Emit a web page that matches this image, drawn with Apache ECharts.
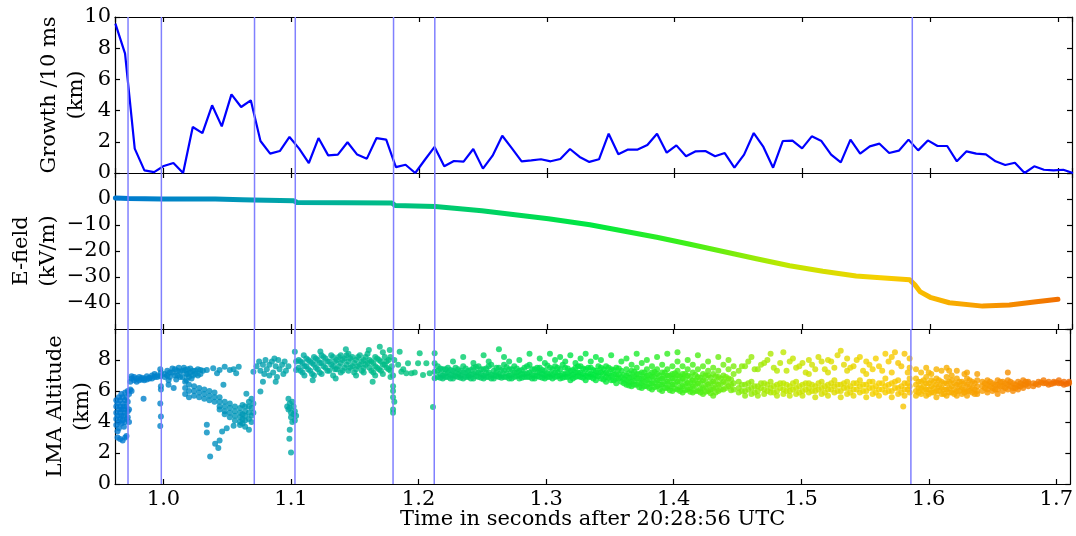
<!DOCTYPE html>
<html>
<head>
<meta charset="utf-8">
<script src="https://cdn.jsdelivr.net/npm/echarts@6/dist/echarts.min.js"></script>
<style>
html, body { margin: 0; padding: 0; background: #fff; }
#chart { width: 1076px; height: 536px; }
</style>
</head>
<body>
<div id="chart"></div>
<script>
// time axis shared by the three panels (seconds after 20:28:56 UTC)
const timeMin = 0.962;
const timeMax = 1.711;

// flash times marked by the blue vertical lines
const flashTimes = [0.9722, 0.9983, 1.0712, 1.1031, 1.18, 1.2123, 1.586];

// growth per window (km), evenly spaced samples
const growthStart = 0.9623;
const growthStep = 0.00757;
const growthValues = [
    9.57, 7.65, 1.56, 0.17, 0.06, 0.45, 0.64, 0.0, 2.95, 2.56,
    4.34, 2.99, 5.04, 4.23, 4.66, 2.05, 1.24, 1.41, 2.31, 1.56,
    0.64, 2.24, 1.13, 1.18, 1.97, 1.18, 0.92, 2.24, 2.14, 0.38,
    0.53, 0.0, 0.85, 1.67, 0.43, 0.77, 0.73, 1.54, 0.28, 1.11,
    2.39, 1.58, 0.75, 0.81, 0.88, 0.75, 0.9, 1.54, 1.03, 0.71,
    0.88, 2.52, 1.2, 1.5, 1.5, 1.79, 2.52, 1.3, 1.77, 1.07,
    1.39, 1.41, 1.07, 1.28, 0.34, 1.18, 2.56, 1.67, 0.34, 2.05,
    2.07, 1.58, 2.35, 2.05, 1.18, 0.68, 2.14, 1.24, 1.71, 1.88,
    1.28, 1.43, 2.14, 1.45, 2.09, 1.73, 1.73, 0.75, 1.39, 1.24,
    1.2, 0.75, 0.51, 0.66, 0.0, 0.43, 0.21, 0.17, 0.21, 0.0
];

// E-field (kV/m)
const efTimes = [
    0.9623, 0.9727, 0.9983, 1.0405, 1.0614, 1.0700, 1.0714, 1.1018, 1.1044, 1.1787,
    1.1813, 1.2126, 1.2491, 1.2751, 1.3012, 1.3337, 1.386, 1.412, 1.438, 1.464,
    1.490, 1.516, 1.542, 1.564, 1.584, 1.588, 1.592, 1.600, 1.615, 1.641,
    1.662, 1.683, 1.700
];
const efValues = [
    0.4, 0.2, 0.0, 0.0, -0.27, -0.35, -0.6, -0.7, -1.3, -1.55,
    -2.5, -2.85, -4.5, -6.05, -7.6, -9.9, -14.7, -17.4, -20.2, -23.0,
    -25.7, -27.8, -29.6, -30.4, -31.1, -33.0, -35.6, -37.8, -39.9, -41.2,
    -40.8, -39.5, -38.6
];

// LMA sources: each row is [time, altitude, altitude, ...] (km)
const lmaColumns = [
    [0.963, 3.8, 4.2, 4.6, 5.0, 5.4],
    [0.964, 3.4, 3.0, 4.4, 5.2],
    [0.965, 4.0, 4.8, 5.6, 3.6],
    [0.966, 2.9, 4.2, 4.6, 5.0, 5.4],
    [0.967, 3.9, 4.4, 4.8, 5.8],
    [0.968, 2.8, 4.1, 5.2, 5.6],
    [0.969, 4.4, 4.8, 5.0, 3.7],
    [0.970, 3.0, 4.0, 4.6, 5.4, 5.9],
    [0.971, 3.1, 4.2, 5.0, 5.6],
    [0.972, 4.3, 4.7, 5.3, 6.0],
    [0.973, 4.0, 4.8, 5.8],
    [0.974, 6.6, 6.1],
    [0.975, 6.8, 6.95, 6.0],
    [0.977, 6.7, 6.9],
    [0.979, 6.8, 6.6],
    [0.981, 6.7, 6.9],
    [0.983, 6.85, 6.75],
    [0.9844, 5.5],
    [0.985, 6.8, 6.7],
    [0.987, 6.95, 6.75],
    [0.989, 6.85, 6.8],
    [0.991, 6.8, 7.0],
    [0.993, 6.9, 7.1],
    [0.995, 7.0, 6.9],
    [0.9975, 7.4, 6.95, 5.2, 3.75],
    [0.998, 7.2, 6.3, 6.1, 4.35],
    [1.001, 7.1, 6.9],
    [1.003, 7.3, 7.0],
    [1.004, 6.7, 6.4],
    [1.005, 6.9, 7.2],
    [1.007, 7.2, 7.45],
    [1.008, 6.2],
    [1.009, 7.4, 7.0],
    [1.010, 6.75],
    [1.011, 7.0, 7.3],
    [1.012, 7.5],
    [1.013, 7.25, 6.9],
    [1.015, 6.9, 7.3],
    [1.016, 7.5],
    [1.017, 7.35, 6.6, 6.2, 5.8],
    [1.018, 6.7, 7.1],
    [1.019, 7.1, 7.4],
    [1.020, 6.9, 6.4, 6.0, 5.6],
    [1.021, 7.45, 7.2],
    [1.022, 6.8],
    [1.023, 7.0, 7.3],
    [1.024, 6.3, 6.0, 5.7],
    [1.025, 7.3, 7.1],
    [1.027, 7.4, 7.0],
    [1.028, 6.2, 5.9, 5.6],
    [1.029, 7.1, 7.36],
    [1.031, 7.3],
    [1.032, 6.1, 5.8, 5.5],
    [1.034, 7.36, 3.82, 3.33],
    [1.036, 6.0, 5.7, 5.4],
    [1.0366, 1.78],
    [1.039, 7.47],
    [1.040, 5.9, 5.6, 5.3],
    [1.0405, 2.6],
    [1.042, 7.15],
    [1.043, 2.32],
    [1.044, 7.36, 5.6, 5.3, 5.0, 4.8, 2.81],
    [1.046, 3.39],
    [1.047, 6.4],
    [1.048, 7.57, 5.3, 5.0, 4.7, 4.5],
    [1.0496, 3.6],
    [1.052, 7.36, 5.2, 4.9, 4.6, 4.3],
    [1.055, 7.4, 3.76],
    [1.056, 5.0, 4.7, 4.4, 4.1],
    [1.057, 7.15],
    [1.059, 7.57],
    [1.060, 4.9, 4.6, 4.3, 4.0, 3.8],
    [1.062, 5.1, 4.5, 4.2, 3.9],
    [1.064, 5.0, 4.7, 4.4, 4.1, 3.7],
    [1.065, 5.82],
    [1.067, 5.3, 5.0, 4.6, 4.2, 3.5],
    [1.069, 5.5, 4.9, 4.4, 4.0],
    [1.0705, 7.25, 5.2, 4.6],
    [1.073, 7.6],
    [1.075, 7.9],
    [1.076, 7.3, 5.97],
    [1.078, 7.7, 6.6],
    [1.079, 7.1],
    [1.080, 8.0],
    [1.081, 7.4],
    [1.083, 7.7, 7.0],
    [1.085, 7.9],
    [1.086, 7.2],
    [1.087, 8.1],
    [1.088, 7.6, 6.6],
    [1.089, 6.9],
    [1.090, 8.0],
    [1.091, 7.4],
    [1.093, 7.7],
    [1.094, 7.1],
    [1.095, 7.9],
    [1.096, 7.3],
    [1.097, 5.0],
    [1.098, 7.6, 5.5, 4.8],
    [1.0987, 2.92],
    [1.099, 5.2, 4.9, 3.5],
    [1.100, 4.6, 4.3, 2.04],
    [1.101, 4.0, 5.3],
    [1.102, 4.5, 5.0],
    [1.103, 4.7, 4.1, 8.54],
    [1.104, 4.4, 7.9, 7.36],
    [1.106, 7.5, 8.0],
    [1.109, 7.2, 7.8],
    [1.110, 8.3],
    [1.112, 7.6, 8.1],
    [1.115, 7.3, 7.9],
    [1.117, 6.7],
    [1.118, 7.7, 8.2, 7.0],
    [1.121, 7.4, 8.0],
    [1.123, 8.55],
    [1.124, 7.8, 7.1, 8.3],
    [1.127, 7.5, 8.1],
    [1.130, 7.9, 7.3],
    [1.133, 7.6, 8.2, 7.0],
    [1.135, 6.8],
    [1.136, 7.4, 8.0],
    [1.139, 7.8, 8.3, 7.2],
    [1.142, 7.5, 8.1],
    [1.143, 8.7],
    [1.145, 7.9, 7.3, 8.4],
    [1.148, 7.6, 8.2],
    [1.151, 7.4, 8.0, 7.0],
    [1.154, 7.7, 8.3],
    [1.157, 7.5, 8.0, 7.2],
    [1.160, 7.8, 8.4],
    [1.161, 8.65],
    [1.163, 7.3, 7.9],
    [1.164, 6.6],
    [1.166, 7.6, 8.2, 7.0],
    [1.169, 7.4, 8.0],
    [1.1696, 8.86],
    [1.172, 7.7, 8.5, 7.1],
    [1.175, 7.5, 7.9],
    [1.1774, 8.65],
    [1.178, 7.3, 8.2, 6.9],
    [1.180, 6.3, 6.0, 5.6, 4.8, 4.6, 7.0],
    [1.179, 7.6],
    [1.181, 5.3, 8.0],
    [1.184, 7.7],
    [1.1852, 8.54],
    [1.1865, 7.25],
    [1.188, 7.4],
    [1.1904, 7.15],
    [1.1917, 7.79],
    [1.1944, 7.15],
    [1.197, 7.19],
    [1.1996, 7.79],
    [1.2009, 8.43],
    [1.2035, 7.04],
    [1.2061, 7.79],
    [1.2087, 7.15],
    [1.2113, 4.96],
    [1.2126, 8.43, 7.79, 7.25, 6.82],
    [1.215, 6.9, 7.3, 7.6],
    [1.219, 7.0, 7.4, 6.8],
    [1.223, 7.2, 6.9, 7.5],
    [1.227, 7.0, 7.3, 6.8, 7.9],
    [1.231, 7.1, 7.4, 6.9],
    [1.235, 6.8, 7.2, 7.6, 8.2],
    [1.239, 7.0, 7.3, 6.9],
    [1.243, 7.1, 7.5, 6.8, 7.8],
    [1.247, 6.9, 7.2, 7.6],
    [1.251, 7.0, 7.4, 6.8, 8.3],
    [1.255, 7.2, 6.9, 7.6, 7.9],
    [1.259, 7.0, 7.3, 6.8],
    [1.263, 7.1, 7.5, 6.9, 8.7],
    [1.267, 6.9, 7.3, 7.7, 8.2],
    [1.271, 7.0, 7.4, 6.8, 7.9],
    [1.275, 7.2, 6.9, 7.6],
    [1.279, 7.0, 7.3, 6.8, 8.0],
    [1.283, 7.1, 7.5, 6.9],
    [1.287, 6.9, 7.2, 7.7, 8.4],
    [1.291, 7.0, 7.4, 6.8],
    [1.295, 7.2, 6.9, 7.5, 8.1],
    [1.299, 7.0, 7.3, 6.8, 7.8],
    [1.303, 7.1, 7.5, 6.9, 8.4],
    [1.307, 6.9, 7.2, 7.6, 8.0],
    [1.311, 7.0, 7.4, 6.8, 8.2],
    [1.315, 7.1, 6.9, 7.5, 7.9],
    [1.319, 7.0, 7.3, 6.7, 8.3],
    [1.323, 7.2, 7.5, 6.9, 7.8],
    [1.327, 6.9, 7.2, 7.6, 8.1],
    [1.331, 7.0, 7.4, 6.7, 8.4],
    [1.335, 7.1, 6.9, 7.5, 7.9],
    [1.339, 7.0, 7.3, 6.7, 8.2],
    [1.343, 7.2, 6.8, 7.5, 8.0],
    [1.347, 6.9, 7.2, 7.6, 6.6],
    [1.351, 7.0, 7.4, 6.7, 8.3],
    [1.355, 7.1, 6.8, 7.5, 6.5],
    [1.359, 6.9, 7.3, 6.6, 7.9],
    [1.363, 7.0, 6.7, 7.4, 6.4, 8.1],
    [1.367, 6.9, 6.6, 7.3, 6.3, 7.7],
    [1.371, 7.1, 6.8, 7.5, 6.4, 8.4],
    [1.375, 6.8, 6.5, 7.2, 6.2, 7.8],
    [1.379, 7.0, 6.7, 7.4, 6.3, 8.0],
    [1.383, 6.9, 6.5, 7.2, 6.1, 7.6],
    [1.387, 7.1, 6.7, 7.4, 6.3, 8.2],
    [1.391, 6.8, 6.4, 7.2, 6.0, 7.7],
    [1.395, 7.0, 6.6, 7.4, 6.2, 8.4],
    [1.399, 6.8, 6.4, 7.1, 6.0, 7.6],
    [1.403, 7.0, 6.6, 7.3, 6.1, 7.9, 8.5],
    [1.407, 6.8, 6.3, 7.1, 5.9, 7.6],
    [1.411, 7.0, 6.5, 7.4, 6.1, 8.0],
    [1.415, 6.7, 6.3, 7.2, 5.9, 7.7],
    [1.419, 6.9, 6.5, 7.4, 6.0, 8.3],
    [1.423, 6.7, 6.2, 7.1, 5.8, 7.6],
    [1.427, 7.0, 6.4, 7.3, 6.0, 7.9],
    [1.431, 6.6, 6.2, 7.1, 5.7, 7.5],
    [1.435, 6.9, 6.4, 7.3, 6.0, 8.2],
    [1.439, 6.6, 6.1, 7.0, 7.7],
    [1.443, 6.8, 6.3, 7.4, 8.0],
    [1.447, 6.5, 6.1, 7.1, 7.6],
    [1.451, 6.6, 6.2, 5.9, 7.3],
    [1.456, 6.4, 6.0, 5.7, 7.6],
    [1.461, 6.6, 6.2, 5.8, 8.2],
    [1.466, 6.3, 6.0, 5.7, 7.4],
    [1.471, 6.5, 6.1, 5.8, 7.8],
    [1.476, 6.6, 6.2, 5.9, 8.4],
    [1.481, 6.4, 6.0, 5.7, 7.3],
    [1.486, 6.5, 6.1, 5.8, 8.5],
    [1.491, 6.3, 6.0, 5.7, 7.9],
    [1.496, 6.6, 6.2, 5.8, 7.5],
    [1.501, 6.4, 6.0, 5.7, 7.8],
    [1.506, 6.5, 6.2, 5.9, 8.0, 7.1],
    [1.511, 6.3, 6.0, 5.6, 7.4],
    [1.516, 6.6, 6.2, 5.8, 7.9],
    [1.521, 6.4, 6.1, 5.7, 8.0, 7.2],
    [1.526, 6.7, 6.3, 5.9, 7.5],
    [1.531, 6.4, 6.0, 5.6, 8.6],
    [1.536, 6.6, 6.2, 5.8, 8.1, 7.3],
    [1.541, 6.5, 6.1, 5.7, 7.6],
    [1.546, 6.7, 6.3, 5.9, 8.2],
    [1.551, 6.4, 6.0, 5.6, 7.9, 7.1],
    [1.556, 6.6, 6.2, 5.8, 7.4],
    [1.561, 6.5, 6.1, 5.7, 7.6],
    [1.566, 6.8, 6.3, 5.9, 8.4],
    [1.571, 6.5, 6.0, 5.6, 8.2, 7.2],
    [1.576, 6.7, 6.2, 5.8, 7.8],
    [1.580, 5.0],
    [1.581, 6.5, 6.1, 5.7, 8.4],
    [1.585, 6.8, 6.3, 5.9, 8.1, 7.5],
    [1.590, 6.8, 6.4, 6.0, 5.7, 7.4],
    [1.594, 6.6, 6.2, 5.8, 7.2],
    [1.598, 6.9, 6.5, 6.1, 5.7, 7.5],
    [1.602, 6.7, 6.3, 5.9, 7.1],
    [1.606, 6.8, 6.4, 6.0, 5.6, 7.4],
    [1.610, 6.6, 6.2, 5.8, 7.3],
    [1.614, 6.9, 6.5, 6.1, 5.7, 7.5],
    [1.618, 6.7, 6.3, 5.9, 7.0],
    [1.622, 6.8, 6.4, 6.0, 5.7, 7.3],
    [1.626, 6.6, 6.2, 5.8],
    [1.630, 6.8, 6.4, 6.0, 5.7, 7.2],
    [1.634, 6.6, 6.2, 5.9],
    [1.638, 6.7, 6.3, 6.0, 5.8, 7.1],
    [1.642, 6.6, 6.3, 6.0],
    [1.646, 6.7, 6.4, 6.1, 5.9],
    [1.650, 6.5, 6.2, 6.0],
    [1.654, 6.7, 6.4, 6.1, 5.8],
    [1.658, 6.6, 6.3, 6.0],
    [1.662, 6.7, 6.4, 6.1, 7.2],
    [1.666, 6.5, 6.2, 6.0],
    [1.670, 6.6, 6.3, 6.1],
    [1.674, 6.7, 6.4, 6.2],
    [1.678, 6.5, 6.3, 6.6],
    [1.682, 6.5, 6.3],
    [1.686, 6.6, 6.4],
    [1.690, 6.5, 6.7],
    [1.694, 6.4, 6.6],
    [1.698, 6.6, 6.5],
    [1.702, 6.5, 6.7],
    [1.706, 6.4, 6.6],
    [1.710, 6.5, 6.6]
];

// extra LMA sources filling the dense bands, same layout
const lmaFill = [
    [1.1075, 7.3, 7.9], [1.1105, 7.6, 7.0], [1.1135, 7.4, 8.0], [1.1165, 7.8, 7.1],
    [1.1195, 7.5, 8.1], [1.1225, 7.2, 7.8], [1.1255, 7.6, 8.2], [1.1285, 7.3, 7.9],
    [1.1315, 7.7, 8.3], [1.1345, 7.4, 7.9], [1.1375, 7.6, 8.2], [1.1405, 7.3, 8.0],
    [1.1435, 7.7, 8.3], [1.1465, 7.5, 8.1], [1.1495, 7.8, 7.2], [1.1525, 7.6, 8.2],
    [1.1555, 7.3, 7.9], [1.1585, 7.7, 8.2], [1.1615, 7.5, 8.0], [1.1645, 7.8, 7.2],
    [1.1675, 7.5, 8.1], [1.1705, 7.3, 7.9], [1.1735, 7.7, 8.2], [1.1765, 7.4, 8.0],
    [1.217, 7.1, 6.85, 7.45], [1.221, 7.15, 6.9, 7.4], [1.225, 7.05, 6.8, 7.35],
    [1.229, 7.2, 6.95, 7.5], [1.233, 7.0, 6.85, 7.3], [1.237, 7.15, 6.9, 7.45],
    [1.241, 7.05, 6.8, 7.35], [1.245, 7.2, 6.95, 7.55], [1.249, 7.1, 6.85, 7.4],
    [1.253, 7.15, 6.9, 7.45], [1.257, 7.05, 6.8, 7.7], [1.261, 7.2, 6.95, 7.5],
    [1.265, 7.0, 6.85, 7.35], [1.269, 7.15, 6.9, 7.55], [1.273, 7.05, 6.8, 7.4],
    [1.277, 7.2, 6.95, 7.45], [1.281, 7.1, 6.85, 7.35], [1.285, 7.15, 6.9, 7.6],
    [1.289, 7.05, 6.8, 7.4], [1.293, 7.2, 6.95, 7.5], [1.297, 7.1, 6.85, 7.35],
    [1.301, 7.15, 6.9, 7.65], [1.305, 7.05, 6.8, 7.4], [1.309, 7.2, 6.95, 7.5],
    [1.313, 7.1, 6.85, 7.7], [1.317, 7.15, 6.9, 7.45], [1.321, 7.05, 6.8, 7.35],
    [1.325, 7.2, 6.95, 7.6], [1.329, 7.1, 6.85, 7.45], [1.333, 7.15, 6.9, 7.5],
    [1.337, 7.05, 6.8, 7.35], [1.341, 7.2, 6.95, 7.6], [1.345, 7.1, 6.75, 7.4],
    [1.349, 7.15, 6.85, 7.5], [1.353, 7.05, 6.7, 7.35], [1.357, 7.1, 6.8, 7.45],
    [1.361, 7.05, 6.75, 6.5],
    [1.365, 6.85, 6.55, 7.15, 6.35], [1.369, 6.95, 6.65, 7.25, 6.4],
    [1.373, 6.8, 6.5, 7.1, 6.25], [1.377, 6.9, 6.6, 7.2, 6.3],
    [1.381, 6.75, 6.45, 7.05, 6.2], [1.385, 6.9, 6.55, 7.25, 6.25],
    [1.389, 6.7, 6.4, 7.0, 6.1], [1.393, 6.85, 6.5, 7.2, 6.2],
    [1.397, 6.65, 6.3, 7.0, 6.05], [1.401, 6.8, 6.45, 7.15, 6.15],
    [1.405, 6.6, 6.25, 6.95, 6.0], [1.409, 6.75, 6.4, 7.1, 6.05],
    [1.413, 6.55, 6.2, 6.9, 5.95], [1.417, 6.7, 6.35, 7.05, 6.0],
    [1.421, 6.5, 6.15, 6.85, 5.9], [1.425, 6.65, 6.3, 7.0, 5.95],
    [1.429, 6.5, 6.1, 6.85, 5.85], [1.433, 6.6, 6.25, 6.95, 5.9],
    [1.437, 6.45, 6.1, 6.8], [1.441, 6.55, 6.2, 6.9], [1.445, 6.4, 6.05, 6.75],
    [1.4535, 6.4, 6.0, 7.6], [1.4585, 6.5, 6.1, 7.9], [1.4635, 6.3, 5.9, 7.4],
    [1.4685, 6.5, 6.2, 7.7], [1.4735, 6.4, 6.0, 8.0], [1.4785, 6.3, 5.9, 7.5],
    [1.4835, 6.5, 6.2, 7.8], [1.4885, 6.4, 6.0, 7.3], [1.4935, 6.5, 6.1, 8.1],
    [1.4985, 6.3, 5.9, 7.6], [1.5035, 6.5, 6.1, 7.2], [1.5085, 6.4, 6.0, 7.7],
    [1.5135, 6.5, 6.1, 8.2], [1.5185, 6.3, 5.9, 7.4], [1.5235, 6.5, 6.1, 7.9],
    [1.5285, 6.4, 6.0, 8.3], [1.5335, 6.5, 6.2, 7.7], [1.5385, 6.3, 5.9, 7.5],
    [1.5435, 6.5, 6.1, 8.0], [1.5485, 6.4, 6.0, 7.3], [1.5535, 6.6, 6.2, 7.7],
    [1.5585, 6.3, 5.9, 8.1], [1.5635, 6.5, 6.1, 7.3], [1.5685, 6.4, 6.0, 7.9],
    [1.5735, 6.6, 6.2, 8.5], [1.5785, 6.3, 5.9, 7.6], [1.5835, 6.5, 6.1, 7.2],
    [1.592, 6.6, 6.2, 5.9], [1.596, 6.7, 6.3, 6.0], [1.600, 6.5, 6.1, 5.8, 7.2],
    [1.604, 6.6, 6.2, 5.9], [1.608, 6.7, 6.3, 6.0], [1.612, 6.5, 6.1, 5.8],
    [1.616, 6.6, 6.2, 5.9, 7.3], [1.620, 6.5, 6.1, 5.8], [1.624, 6.6, 6.3, 6.0],
    [1.628, 6.5, 6.1, 5.9, 7.1], [1.632, 6.7, 6.3, 6.0], [1.636, 6.5, 6.1, 5.8],
    [1.644, 6.5, 6.2], [1.648, 6.6, 6.3], [1.652, 6.4, 6.1], [1.656, 6.6, 6.3],
    [1.660, 6.5, 6.2], [1.664, 6.6, 6.3], [1.668, 6.4, 6.2], [1.672, 6.5, 6.3],
    [1.676, 6.6, 6.4],
    [1.684, 6.45], [1.688, 6.55], [1.692, 6.5], [1.696, 6.45], [1.700, 6.55],
    [1.704, 6.5], [1.708, 6.45]
];

// colour ramp along time (early -> late)
const timeColors = [
    '#0078d0', '#008ec0', '#00aca0', '#00c080', '#00d460', '#00e840',
    '#40f018', '#c0e800', '#f8d000', '#f8a000', '#f06800'
];

const growthData = growthValues.map((v, i) => [growthStart + i * growthStep, v]);
const efData = efTimes.map((t, i) => [t, efValues[i]]);
const lmaData = [];
lmaColumns.concat(lmaFill).forEach(col => {
    col.slice(1).forEach(a => lmaData.push([col[0], a]));
});

const chart = echarts.init(document.getElementById('chart'));

const font = { fontFamily: 'DejaVu Serif', fontSize: 21, color: '#000' };
const black = { color: '#000', width: 1.2 };

// panel boxes
const grids = [
    { left: 115, right: 4, top: 17, height: 156 },
    { left: 115, right: 4, top: 173, height: 156 },
    { left: 115, right: 4, top: 329, height: 155 }
];

function minus(v) {
    return v < 0 ? '\u2212' + (-v) : String(v);
}

// bottom and top time axes for each panel
const xAxes = [];
grids.forEach((g, i) => {
    ['bottom', 'top'].forEach(pos => {
        const labelled = i === 2 && pos === 'bottom';
        xAxes.push({
            type: 'value',
            gridIndex: i,
            position: pos,
            min: timeMin,
            max: timeMax,
            splitNumber: 8,
            axisLine: { show: true, onZero: false, lineStyle: black },
            axisTick: { show: true, inside: true, length: 5, lineStyle: black },
            axisLabel: Object.assign({
                show: labelled,
                margin: 5,
                showMinLabel: false,
                showMaxLabel: false,
                formatter: v => v.toFixed(1)
            }, font),
            splitLine: { show: false },
            name: labelled ? 'Time in seconds after 20:28:56 UTC' : '',
            nameLocation: 'middle',
            nameGap: 25,
            nameMoveOverlap: false,
            nameTextStyle: font
        });
    });
});

const yRanges = [
    { min: 0, max: 10, interval: 2, name: 'Growth /10 ms\n(km)', gap: 25, hideMin: false, hideMax: false },
    { min: -50, max: 10, interval: 10, name: 'E-field\n(kV/m)', gap: 53, hideMin: true, hideMax: true },
    { min: 0, max: 10, interval: 2, name: 'LMA Altitude\n(km)', gap: 19, hideMin: false, hideMax: true }
];

const yAxes = [];
yRanges.forEach((r, i) => {
    ['left', 'right'].forEach(pos => {
        const labelled = pos === 'left';
        yAxes.push({
            type: 'value',
            gridIndex: i,
            position: pos,
            min: r.min,
            max: r.max,
            interval: r.interval,
            axisLine: { show: true, onZero: false, lineStyle: black },
            axisTick: { show: true, inside: true, length: 5, lineStyle: black },
            axisLabel: Object.assign({
                show: labelled,
                margin: 4,
                showMinLabel: !r.hideMin,
                showMaxLabel: !r.hideMax,
                formatter: minus
            }, font),
            splitLine: { show: false },
            name: labelled ? r.name : '',
            nameLocation: 'middle',
            nameRotate: 90,
            nameGap: r.gap,
            nameMoveOverlap: false,
            nameTextStyle: Object.assign({ lineHeight: 27 }, font)
        });
    });
});

const series = [
    {
        name: 'growth',
        type: 'line',
        xAxisIndex: 0,
        yAxisIndex: 0,
        data: growthData,
        showSymbol: false,
        lineStyle: { color: '#0000ff', width: 2.2 },
        itemStyle: { color: '#0000ff' }
    },
    {
        name: 'efield',
        type: 'line',
        xAxisIndex: 2,
        yAxisIndex: 2,
        data: efData,
        showSymbol: false,
        lineStyle: { width: 5, cap: 'round', join: 'round' }
    },
    {
        name: 'lma',
        type: 'scatter',
        xAxisIndex: 4,
        yAxisIndex: 4,
        data: lmaData,
        symbolSize: 6
    }
];

// vertical flash markers, one short line per panel
flashTimes.forEach(t => {
    yRanges.forEach((r, i) => {
        series.push({
            type: 'line',
            xAxisIndex: 2 * i,
            yAxisIndex: 2 * i,
            data: [[t, r.min], [t, r.max]],
            showSymbol: false,
            silent: true,
            z: 5,
            lineStyle: { color: '#8080ff', width: 1.5 }
        });
    });
});

const option = {
    animation: false,
    backgroundColor: '#fff',
    grid: grids,
    xAxis: xAxes,
    yAxis: yAxes,
    visualMap: {
        type: 'continuous',
        show: false,
        dimension: 0,
        min: timeMin,
        max: timeMax,
        seriesIndex: [1, 2],
        inRange: { color: timeColors }
    },
    series: series
};

chart.setOption(option);
</script>
</body>
</html>
